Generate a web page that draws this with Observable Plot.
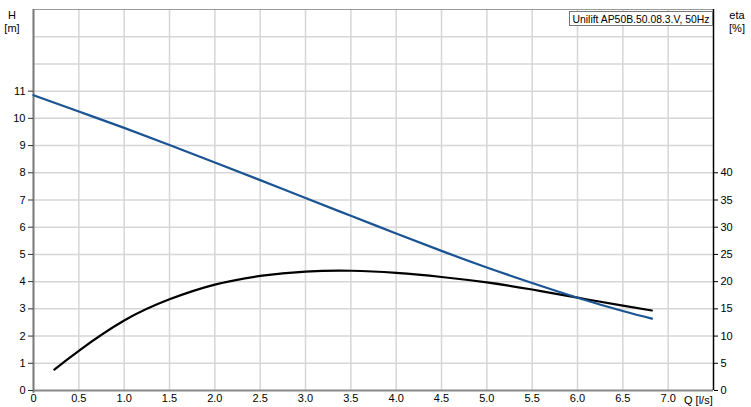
<!DOCTYPE html>
<html>
<head>
<meta charset="utf-8">
<script src="https://cdn.jsdelivr.net/npm/d3@7"></script>
<script src="https://cdn.jsdelivr.net/npm/@observablehq/plot@0.6"></script>
<style>
  html, body { margin: 0; padding: 0; background: #fff; }
  #chart { position: relative; width: 751px; height: 407px; }
</style>
</head>
<body>
<div id="chart"></div>
<script>
// Head curve H [m] vs Q [l/s]
const headQ = [0, 0.5, 1.0, 1.5, 2.0, 2.5, 3.0, 3.5, 4.0, 4.5, 5.0, 5.5, 6.0, 6.5, 6.82];
const headH = [10.85, 10.25, 9.65, 9.02, 8.38, 7.73, 7.07, 6.42, 5.77, 5.13, 4.52, 3.95, 3.41, 2.92, 2.64];
// Efficiency curve eta [%] vs Q [l/s]
const etaQ = [0.23, 0.5, 1.0, 1.5, 2.0, 2.5, 3.0, 3.5, 4.0, 4.5, 5.0, 5.5, 6.0, 6.5, 6.82];
const etaV = [3.85, 7.3, 12.85, 16.75, 19.45, 21.05, 21.85, 22.0, 21.6, 20.85, 19.85, 18.55, 17.05, 15.6, 14.7];
// Axis ticks
const xTicks = [0, 0.5, 1.0, 1.5, 2.0, 2.5, 3.0, 3.5, 4.0, 4.5, 5.0, 5.5, 6.0, 6.5, 7.0];
const hTicks = [0, 1, 2, 3, 4, 5, 6, 7, 8, 9, 10, 11];
const hGrid = [1, 2, 3, 4, 5, 6, 7, 8, 9, 10, 11, 12, 13];
const etaTicks = [0, 5, 10, 15, 20, 25, 30, 35, 40];
const etaPerMeter = 5; // right axis: 5 % per 1 m on the left axis
const legendLabel = "Unilift AP50B.50.08.3.V, 50Hz";

const head = headQ.map((q, i) => ({q, h: headH[i]}));
const eta = etaQ.map((q, i) => ({q, h: etaV[i] / etaPerMeter}));

const W = 751, H = 407;
const chart = Plot.plot({
  width: W,
  height: H,
  marginLeft: 33,
  marginRight: 38,
  marginTop: 9,
  marginBottom: 17,
  style: {fontFamily: "Liberation Sans, Arial, sans-serif", fontSize: "11px", color: "#000", background: "#fff"},
  x: {domain: [0, 7.5]},
  y: {domain: [0, 14]},
  marks: [
    Plot.gridX(xTicks.filter(d => d > 0), {stroke: "#d6d6d6", strokeOpacity: 1, strokeWidth: 1.5}),
    Plot.gridY(hGrid, {stroke: "#d6d6d6", strokeOpacity: 1, strokeWidth: 1.5}),
    Plot.ruleY([14], {stroke: "#999", strokeWidth: 1}),
    Plot.ruleY([0], {stroke: "#888", strokeWidth: 2}),
    Plot.ruleX([0], {stroke: "#777", strokeWidth: 2, y1: -0.1, y2: 14}),
    Plot.ruleX([7.5], {stroke: "#000", strokeWidth: 1.5}),
    Plot.axisY(hTicks, {anchor: "left", tickSize: 5, tickPadding: 3, stroke: "#333", label: null, fontSize: 11}),
    Plot.axisY(etaTicks.map(v => v / etaPerMeter), {anchor: "right", tickSize: 4, tickPadding: 3, stroke: "#000", label: null, tickFormat: d => String(Math.round(d * etaPerMeter)), fontSize: 11}),
    Plot.axisX(xTicks, {anchor: "bottom", tickSize: 0, tickPadding: 4, label: null, tickFormat: d => d === 0 ? "0" : d.toFixed(1), fontSize: 11}),
    Plot.line(eta, {x: "q", y: "h", stroke: "#000", strokeWidth: 2.2, curve: "natural"}),
    Plot.line(head, {x: "q", y: "h", stroke: "#1a5493", strokeWidth: 2.2, curve: "natural"})
  ]
});
const holder = document.getElementById("chart");
holder.appendChild(chart);

const svg = d3.select(chart);
function txt(x, y, s, anchor, size) {
  return svg.append("text").attr("x", x).attr("y", y).attr("text-anchor", anchor || "start")
    .attr("font-family", "Liberation Sans, Arial, sans-serif").attr("font-size", size || 11).attr("fill", "#000").text(s);
}
txt(12, 19, "H", "middle");
txt(12, 32, "[m]", "middle");
txt(737, 19, "eta", "middle");
txt(737, 32, "[%]", "middle");
txt(684, 404, "Q [l/s]", "start");
// legend box
svg.append("rect").attr("x", 569.5).attr("y", 11.5).attr("width", 143).attr("height", 14)
  .attr("fill", "#fff").attr("stroke", "#777").attr("stroke-width", 1);
txt(641, 22.5, legendLabel, "middle", 10.5).attr("textLength", 137).attr("lengthAdjust", "spacingAndGlyphs");
</script>
</body>
</html>
